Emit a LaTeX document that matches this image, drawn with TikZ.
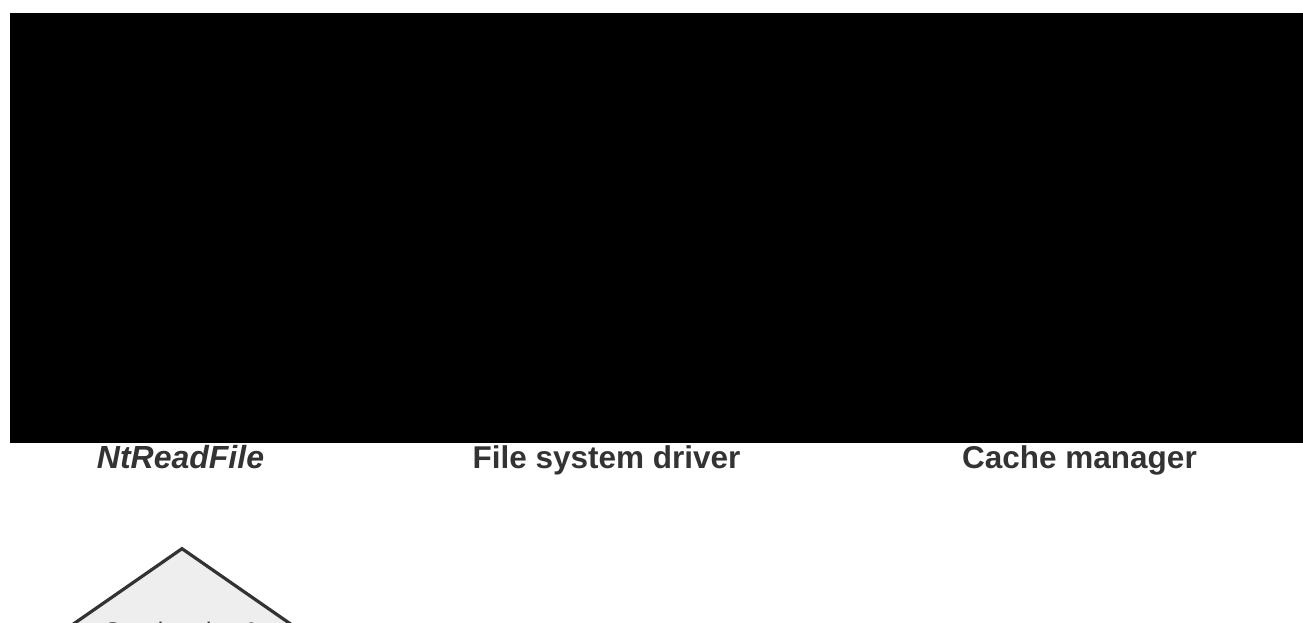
\documentclass[tikz,border=0pt]{standalone}
\usepackage{fontspec}
\setmainfont{Liberation Sans}
\usetikzlibrary{shapes.geometric}
\definecolor{ink}{HTML}{333333}
\definecolor{paper}{HTML}{EEEEEE}
\begin{document}
\begin{tikzpicture}[x=1pt,y=1pt,
  lane/.style={font=\fontsize{31.5}{36}\selectfont\bfseries, text=ink, anchor=base, inner sep=0pt},
  banner/.style={fill=black, inner sep=0pt, anchor=south west},
  decision/.style={diamond, draw=ink, fill=paper, line width=3.2pt, minimum width=230pt, minimum height=160pt, inner sep=0pt},
  dtext/.style={font=\fontsize{24}{28}\selectfont, text=ink, anchor=north, inner sep=0pt, align=center}]
\clip (0,0) rectangle (1303,623);
\useasboundingbox (0,0) rectangle (1303,623);
\node[banner, minimum width=1293pt, minimum height=430pt] (band) at (10,180) {};
\node[lane, font=\fontsize{32}{36}\selectfont\bfseries\itshape] (nt) at (180.5,154) {NtReadFile};
\node[lane] (fsd) at (606.5,154) {File system driver};
\node[lane] (cm) at (1079.5,154) {Cache manager};
\node[decision] (q) at (182,-5) {};
\node[dtext] (qt) at (182,1) {Synchronize \&\\cached data?};
\end{tikzpicture}
\end{document}
